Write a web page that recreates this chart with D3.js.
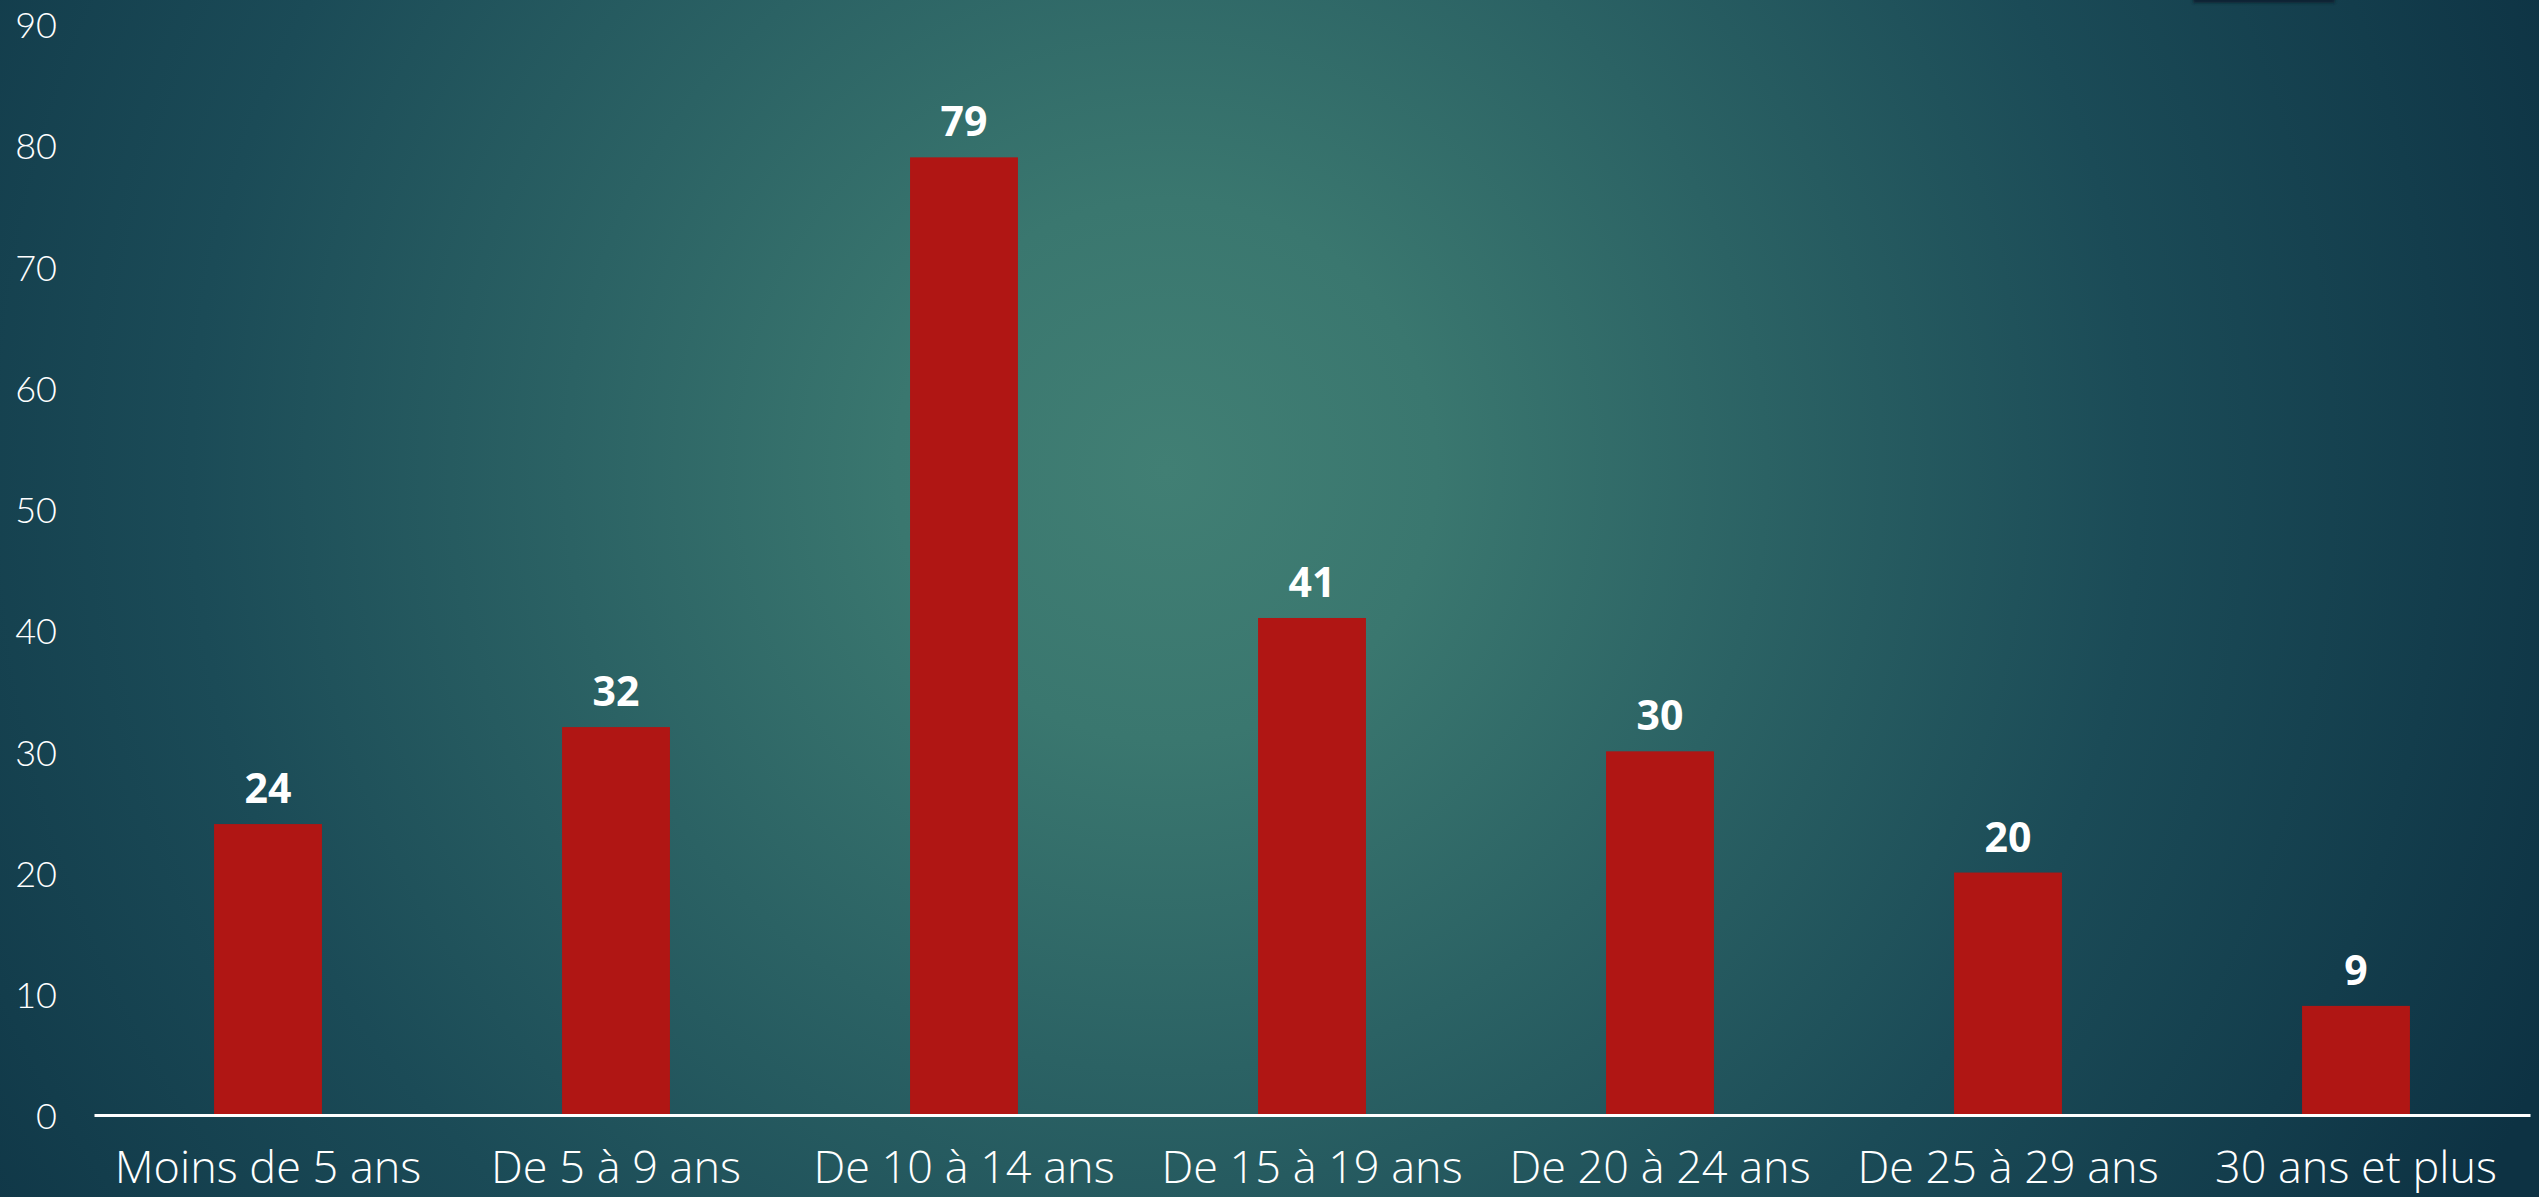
<!DOCTYPE html>
<html>
<head>
<meta charset="utf-8">
<script src="https://cdn.jsdelivr.net/npm/d3@7"></script>
<style>
  html, body { margin: 0; padding: 0; background: #123c4b; overflow: hidden; }
  svg { display: block; }
</style>
</head>
<body>
<svg id="chart" width="2539" height="1197"></svg>
<script>
const categories = ["Moins de 5 ans", "De 5 à 9 ans", "De 10 à 14 ans", "De 15 à 19 ans", "De 20 à 24 ans", "De 25 à 29 ans", "30 ans et plus"];
const values = [24, 32, 79, 41, 30, 20, 9];
const yTicks = [0, 10, 20, 30, 40, 50, 60, 70, 80, 90];

const W = 2539, H = 1197;
const svg = d3.select("#chart");
const defs = svg.append("defs");

const grad = defs.append("radialGradient")
  .attr("id", "bg").attr("gradientUnits", "userSpaceOnUse")
  .attr("cx", 1166).attr("cy", 470).attr("r", 1500);
[[0, "#417f74"], [0.18, "#3a776f"], [0.4, "#2b6264"], [0.65, "#1b4b57"], [0.85, "#133d4c"], [1, "#0d3243"]]
  .forEach(([o, c]) => grad.append("stop").attr("offset", o).attr("stop-color", c));

svg.append("rect").attr("width", W).attr("height", H).attr("fill", "url(#bg)");

const blur = defs.append("filter").attr("id", "sh").attr("x", "-20%").attr("y", "-200%").attr("width", "140%").attr("height", "500%");
blur.append("feGaussianBlur").attr("stdDeviation", 1.5);
svg.append("rect").attr("x", 2193).attr("y", -4).attr("width", 142).attr("height", 7)
  .attr("fill", "#0b2430").attr("filter", "url(#sh)");

const x = d3.scaleBand().domain(categories).range([94, 2530]).paddingInner(0.69).paddingOuter(0.345);
const y = d3.scaleLinear().domain([0, 90]).range([1115, 24]);

// y axis
const yAxis = svg.append("g").attr("transform", "translate(94,0)")
  .call(d3.axisLeft(y).tickValues(yTicks).tickSize(0).tickPadding(37));
yAxis.select(".domain").remove();
yAxis.selectAll("text")
  .attr("dy", "0.38em")
  .attr("fill", "#ffffff")
  .style("font-family", "Lato, sans-serif")
  .style("font-weight", 300)
  .style("font-size", "36px");

// bars
svg.append("g").selectAll("rect").data(values).join("rect")
  .attr("x", (d, i) => x(categories[i]))
  .attr("width", x.bandwidth())
  .attr("y", d => y(d))
  .attr("height", d => y(0) - y(d))
  .attr("fill", "#b01614");

// value labels
svg.append("g").selectAll("text").data(values).join("text")
  .attr("x", (d, i) => x(categories[i]) + x.bandwidth() / 2)
  .attr("y", d => y(d) - 21)
  .attr("text-anchor", "middle")
  .attr("fill", "#ffffff")
  .style("font-family", "'Open Sans', sans-serif")
  .style("font-weight", 700)
  .style("font-size", "41px")
  .text(d => d);

// x axis
const xAxis = svg.append("g").attr("transform", "translate(0,1115)")
  .call(d3.axisBottom(x).tickSize(0).tickSizeOuter(0));
xAxis.select(".domain").attr("stroke", "#ffffff").attr("stroke-width", 3);
xAxis.selectAll("text")
  .attr("y", 68).attr("dy", 0)
  .attr("fill", "#ffffff")
  .style("font-family", "'Open Sans', sans-serif")
  .style("font-weight", 300)
  .style("font-size", "45px");
</script>
</body>
</html>
